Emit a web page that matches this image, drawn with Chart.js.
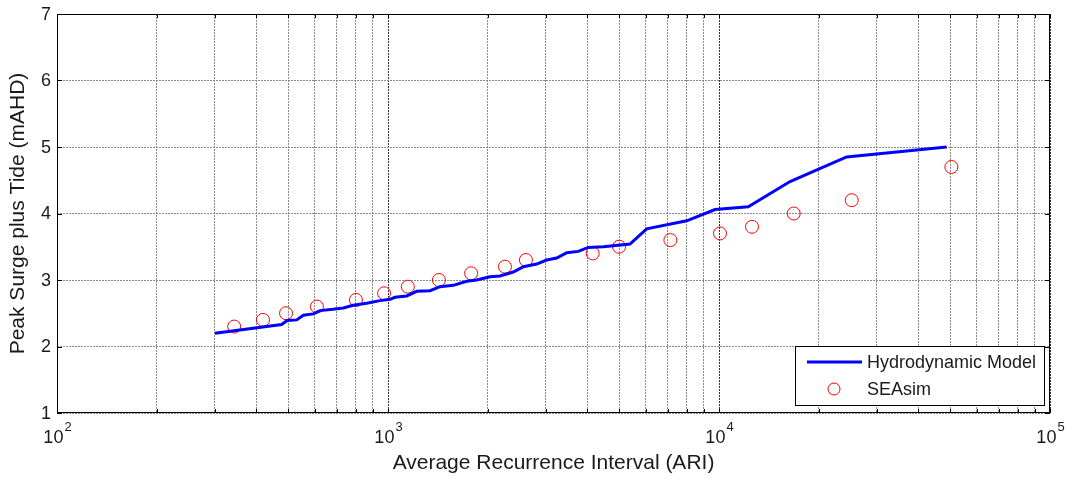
<!DOCTYPE html>
<html>
<head>
<meta charset="utf-8">
<script src="https://cdn.jsdelivr.net/npm/chart.js@4.4.1/dist/chart.umd.min.js"></script>
<style>
  html, body { margin: 0; padding: 0; background: #fff; }
  #wrap { width: 1073px; height: 482px; }
</style>
</head>
<body>
<div id="wrap"><canvas id="surgeChart" width="1073" height="482"></canvas></div>
<script>
// ---------- data ----------
const modelAri = [300, 477, 496, 530, 555, 595, 623, 682, 733, 785,
                  862, 946, 1014, 1050, 1139, 1221, 1340, 1436, 1575, 1729,
                  1853, 2033, 2179, 2391, 2564, 2813, 3017, 3234, 3467, 3758,
                  4029, 4470, 5383, 6047, 7986, 9727, 12260, 16390, 24300, 48750];
const modelLevel = [2.2, 2.33, 2.39, 2.40, 2.47, 2.49, 2.54, 2.56, 2.58, 2.62,
                    2.65, 2.69, 2.71, 2.74, 2.76, 2.83, 2.84, 2.90, 2.92, 2.98,
                    3.0, 3.05, 3.06, 3.12, 3.2, 3.24, 3.30, 3.33, 3.41, 3.43,
                    3.49, 3.50, 3.54, 3.77, 3.89, 4.06, 4.10, 4.48, 4.85, 5.0];

const seaAri = [343, 419, 492, 610, 800, 973, 1148, 1425, 1783, 2256,
                2610, 4153, 4990, 7130, 10070, 12580, 16820, 25180, 50350];
const seaLevel = [2.3, 2.4, 2.5, 2.6, 2.7, 2.8, 2.9, 3.0, 3.1, 3.2,
                  3.3, 3.4, 3.5, 3.6, 3.7, 3.8, 4.0, 4.2, 4.7];

const xMajor = [100, 1000, 10000, 100000];
const xExp = ["2", "3", "4", "5"];
const yTicks = [1, 2, 3, 4, 5, 6, 7];

// all log grid positions 100..100000
const xGrid = [];
xMajor.forEach((d, i) => {
    if (i === xMajor.length - 1) { xGrid.push(d); return; }
    for (let k = 1; k < 10; k++) xGrid.push(d * k);
});

const FONT = "'Liberation Sans', Arial, sans-serif";

// ---------- matlab-ish frame, labels, legend ----------
const matlabFrame = {
    id: "matlabFrame",
    afterDraw(chart) {
        const c = chart.ctx;
        const a = chart.chartArea;
        const xs = chart.scales.x;
        const ys = chart.scales.y;
        c.save();

        // box
        c.strokeStyle = "#000";
        c.lineWidth = 1;
        c.strokeRect(a.left + 0.5, a.top + 0.5, a.right - a.left - 1, a.bottom - a.top - 1);

        // inward tick marks
        c.beginPath();
        xGrid.forEach(v => {
            const px = Math.round(xs.getPixelForValue(v)) + 0.5;
            c.moveTo(px, a.bottom); c.lineTo(px, a.bottom - 4);
            c.moveTo(px, a.top); c.lineTo(px, a.top + 4);
        });
        yTicks.forEach(v => {
            const py = Math.round(ys.getPixelForValue(v)) + 0.5;
            c.moveTo(a.left, py); c.lineTo(a.left + 5, py);
            c.moveTo(a.right, py); c.lineTo(a.right - 5, py);
        });
        c.stroke();

        // y tick labels
        c.fillStyle = "#1a1a1a";
        c.font = "18px " + FONT;
        c.textAlign = "right";
        c.textBaseline = "middle";
        yTicks.forEach(v => {
            c.fillText(String(v), a.left - 6, ys.getPixelForValue(v) + 1);
        });

        // x tick labels, 10^n
        xMajor.forEach((v, i) => {
            const px = xs.getPixelForValue(v);
            c.font = "18px " + FONT;
            const w10 = c.measureText("10").width;
            c.font = "13px " + FONT;
            const wE = c.measureText(xExp[i]).width;
            const x0 = px - (w10 + wE) / 2;
            c.textAlign = "left";
            c.textBaseline = "alphabetic";
            c.font = "18px " + FONT;
            c.fillText("10", x0, a.bottom + 30);
            c.font = "13px " + FONT;
            c.fillText(xExp[i], x0 + w10 + 1, a.bottom + 18);
        });

        // axis titles
        c.font = "21px " + FONT;
        c.textAlign = "center";
        c.textBaseline = "middle";
        c.fillText("Average Recurrence Interval (ARI)", (a.left + a.right) / 2, 463);
        c.save();
        c.translate(18, (a.top + a.bottom) / 2);
        c.rotate(-Math.PI / 2);
        c.fillText("Peak Surge plus Tide (mAHD)", 0, 0);
        c.restore();

        // legend
        const lw = 249, lh = 59;
        const lx = a.right - 6 - lw, ly = a.bottom - 8 - lh;
        c.fillStyle = "#fff";
        c.fillRect(lx, ly, lw, lh);
        c.strokeStyle = "#000";
        c.lineWidth = 1;
        c.strokeRect(lx + 0.5, ly + 0.5, lw, lh);
        const ds = chart.data.datasets;
        c.strokeStyle = ds[0].borderColor;
        c.lineWidth = 3;
        c.beginPath();
        c.moveTo(lx + 12, ly + 16); c.lineTo(lx + 67, ly + 16);
        c.stroke();
        c.strokeStyle = ds[1].borderColor;
        c.lineWidth = 1;
        c.beginPath();
        c.arc(lx + 39, ly + 43, 6, 0, Math.PI * 2);
        c.stroke();
        c.fillStyle = "#1a1a1a";
        c.font = "18px " + FONT;
        c.textAlign = "left";
        c.textBaseline = "middle";
        c.fillText(ds[0].label, lx + 72, ly + 17);
        c.fillText(ds[1].label, lx + 72, ly + 44);

        c.restore();
    }
};

const ctx = document.getElementById("surgeChart").getContext("2d");

new Chart(ctx, {
    type: "scatter",
    data: {
        datasets: [
            {
                label: "Hydrodynamic Model",
                data: modelAri.map((x, i) => ({ x: x, y: modelLevel[i] })),
                showLine: true,
                borderColor: "#0000ff",
                borderWidth: 3,
                pointRadius: 0,
                tension: 0
            },
            {
                label: "SEAsim",
                data: seaAri.map((x, i) => ({ x: x, y: seaLevel[i] })),
                showLine: false,
                borderColor: "#ff0000",
                backgroundColor: "rgba(0,0,0,0)",
                borderWidth: 1,
                pointRadius: 6.5,
                pointStyle: "circle"
            }
        ]
    },
    options: {
        responsive: false,
        animation: false,
        devicePixelRatio: 1,
        layout: {
            padding: { left: 57, right: 23, top: 14, bottom: 69 }
        },
        scales: {
            x: {
                type: "logarithmic",
                min: 100,
                max: 100000,
                afterBuildTicks: (scale) => {
                    scale.ticks = xGrid.map(v => ({ value: v }));
                },
                ticks: { display: false },
                grid: {
                    drawTicks: false,
                    color: (c) => xMajor.includes(c.tick && c.tick.value) ? "#333" : "#8a8a8a",
                    lineWidth: 1
                },
                border: { display: false, dash: [2, 1] }
            },
            y: {
                min: 1,
                max: 7,
                afterBuildTicks: (scale) => {
                    scale.ticks = yTicks.map(v => ({ value: v }));
                },
                ticks: { display: false },
                grid: {
                    drawTicks: false,
                    color: "#8a8a8a",
                    lineWidth: 1
                },
                border: { display: false, dash: [2, 1] }
            }
        },
        plugins: {
            legend: { display: false },
            tooltip: { enabled: false }
        }
    },
    plugins: [matlabFrame]
});
</script>
</body>
</html>
